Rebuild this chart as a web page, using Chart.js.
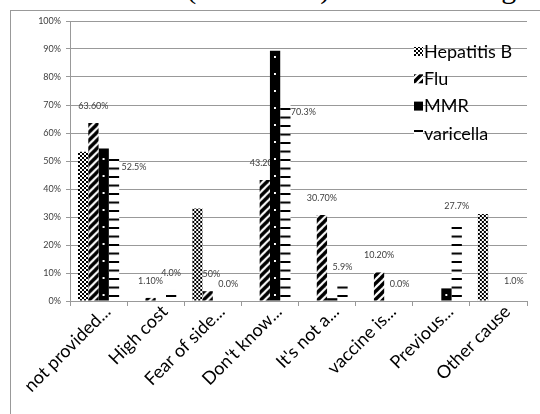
<!DOCTYPE html>
<html><head><meta charset="utf-8">
<script src="https://cdn.jsdelivr.net/npm/chart.js@4.4.1/dist/chart.umd.min.js"></script>
<style>
html,body{margin:0;padding:0;background:#fff;width:540px;height:414px;overflow:hidden;position:relative;}
#cap{position:absolute;left:14px;top:-26px;font:30px 'Liberation Serif',serif;line-height:27px;white-space:nowrap;word-spacing:12px;color:#000;}
#frame{position:absolute;left:10px;top:10px;width:560px;height:440px;border:1px solid #999;box-sizing:border-box;}
#wrap{position:absolute;left:0;top:0;width:540px;height:414px;}
</style></head><body>
<div id="cap">children for (P &lt; 0.01). This finding</div>
<div id="frame"></div>
<div id="wrap"><canvas id="c" width="540" height="414"></canvas></div>
<script>
// ---- data ----
const categories = ["not provided...", "High cost", "Fear of side...", "Don't know...", "It's not a...", "vaccine is...", "Previous...", "Other cause"];
const seriesNames = ["Hepatitis B", "Flu", "MMR", "varicella"];
const hepatitisB = [53.3, 0, 33.0, 0, 0, 0, 0, 31.1];
const flu = [63.6, 1.1, 3.5, 43.2, 30.7, 10.2, null, null];
const mmr = [54.5, 0, 0, 89.4, 1.0, 0, 4.5, 0];
const varicella = [52.5, 4.0, 0.0, 70.3, 5.9, 0.0, 27.7, 1.0];
const yMax = 100, yStep = 10;

// ---- patterns ----
function tile(w, h, draw) { const c = document.createElement('canvas'); c.width = w; c.height = h; const g = c.getContext('2d'); draw(g, w, h); return c; }
const tiles = [
  tile(4, 4, g => { g.fillStyle = '#fff'; g.fillRect(0, 0, 4, 4); g.fillStyle = '#000'; g.fillRect(0, 0, 2, 2); g.fillRect(2, 2, 2, 2); }),
  tile(8, 8, g => { g.fillStyle = '#fff'; g.fillRect(0, 0, 8, 8); g.strokeStyle = '#000'; g.lineWidth = 3.4; g.lineCap = 'butt';
    [-8, 0, 8].forEach(dx => { g.beginPath(); g.moveTo(dx - 1, 9); g.lineTo(dx + 9, -1); g.stroke(); }); }),
  tile(20, 17, g => { g.fillStyle = '#000'; g.fillRect(0, 0, 20, 17); g.fillStyle = '#fff'; g.fillRect(4, 10, 2, 2); }),
  tile(20, 17, g => { g.fillStyle = '#fff'; g.fillRect(0, 0, 20, 17); g.fillStyle = '#000'; g.fillRect(0, 2.5, 20, 2); g.fillRect(0, 11, 20, 2); })
];
const catPct = 0.72;
function fillFor(di) {
  return (ctx) => {
    const ch = ctx.chart;
    const pat = ch.ctx.createPattern(tiles[di], 'repeat');
    const xs = ch.scales.x, ys = ch.scales.y;
    if (!xs || !ys || !ch.chartArea || ctx.type !== 'data') return pat;
    const cw = xs.width / categories.length;
    const bw = cw * catPct / 4;
    const left = xs.getPixelForValue(ctx.dataIndex) + (di - 2) * bw;
    const base = ys.getPixelForValue(0);
    pat.setTransform(new DOMMatrix([1, 0, 0, 1, left, base]));
    return pat;
  };
}

// ---- data labels (Flu and varicella only) ----
const labelSeries = { 1: 2, 3: 1 }; // dataset index -> decimals
const labelShift = { '3-0': [20, 30], '3-3': [18, 25] };
const dataLabels = {
  id: 'dataLabels',
  beforeDatasetsDraw(chart) {
    const g = chart.ctx;
    g.save();
    g.font = '9px Lato';
    g.fillStyle = '#404040';
    g.textAlign = 'center';
    g.textBaseline = 'middle';
    Object.keys(labelSeries).forEach(k => {
      const di = +k;
      const meta = chart.getDatasetMeta(di);
      chart.data.datasets[di].data.forEach((v, i) => {
        if (v === null || v === undefined) return;
        const el = meta.data[i];
        const sh = labelShift[di + '-' + i] || [0, 0];
        g.fillText(v.toFixed(labelSeries[k]) + '%', el.x + sh[0], el.y - 17 + sh[1]);
      });
    });
    g.restore();
  }
};

// ---- legend inside plot ----
const legendPlug = {
  id: 'legendIn',
  afterDatasetsDraw(chart) {
    const g = chart.ctx;
    g.save();
    g.font = '18px Lato';
    g.textBaseline = 'middle';
    g.textAlign = 'left';
    const x0 = 414, y0 = 51, dy = 27.3;
    chart.data.datasets.forEach((ds, i) => {
      const y = y0 + i * dy;
      g.fillStyle = g.createPattern(tiles[i], 'repeat');
      g.fillRect(x0, y - 4, 9, 9);
      g.fillStyle = '#000';
      g.fillText(ds.label, x0 + 10, y + 1);
    });
    g.restore();
  }
};

const seriesData = [hepatitisB, flu, mmr, varicella];
new Chart(document.getElementById('c'), {
  type: 'bar',
  data: {
    labels: categories,
    datasets: seriesNames.map((n, i) => ({
      label: n, data: seriesData[i],
      backgroundColor: fillFor(i), borderWidth: 0,
      categoryPercentage: catPct, barPercentage: 1
    }))
  },
  options: {
    responsive: false, animation: false, devicePixelRatio: 1,
    layout: { padding: { top: 21, right: 13, left: 0, bottom: 0 } },
    plugins: { legend: { display: false }, tooltip: { enabled: false } },
    scales: {
      x: {
        offset: true,
        grid: { offset: true, drawOnChartArea: false, drawTicks: true, tickLength: 5, color: '#999' },
        border: { display: true, color: '#999' },
        ticks: { font: { family: 'Lato', size: 18 }, color: '#000', minRotation: 45, maxRotation: 45, autoSkip: false, padding: -5, labelOffset: 9 },
        afterFit: s => { s.height = 113; }
      },
      y: {
        min: 0, max: yMax,
        grid: { color: '#999', tickLength: 4 },
        border: { display: true, color: '#999' },
        ticks: { stepSize: yStep, font: { family: 'Lato', size: 9 }, color: '#404040', padding: 5, callback: v => v + '%' },
        afterFit: s => { s.width = 70; }
      }
    }
  },
  plugins: [dataLabels, legendPlug]
});
</script>
</body></html>
